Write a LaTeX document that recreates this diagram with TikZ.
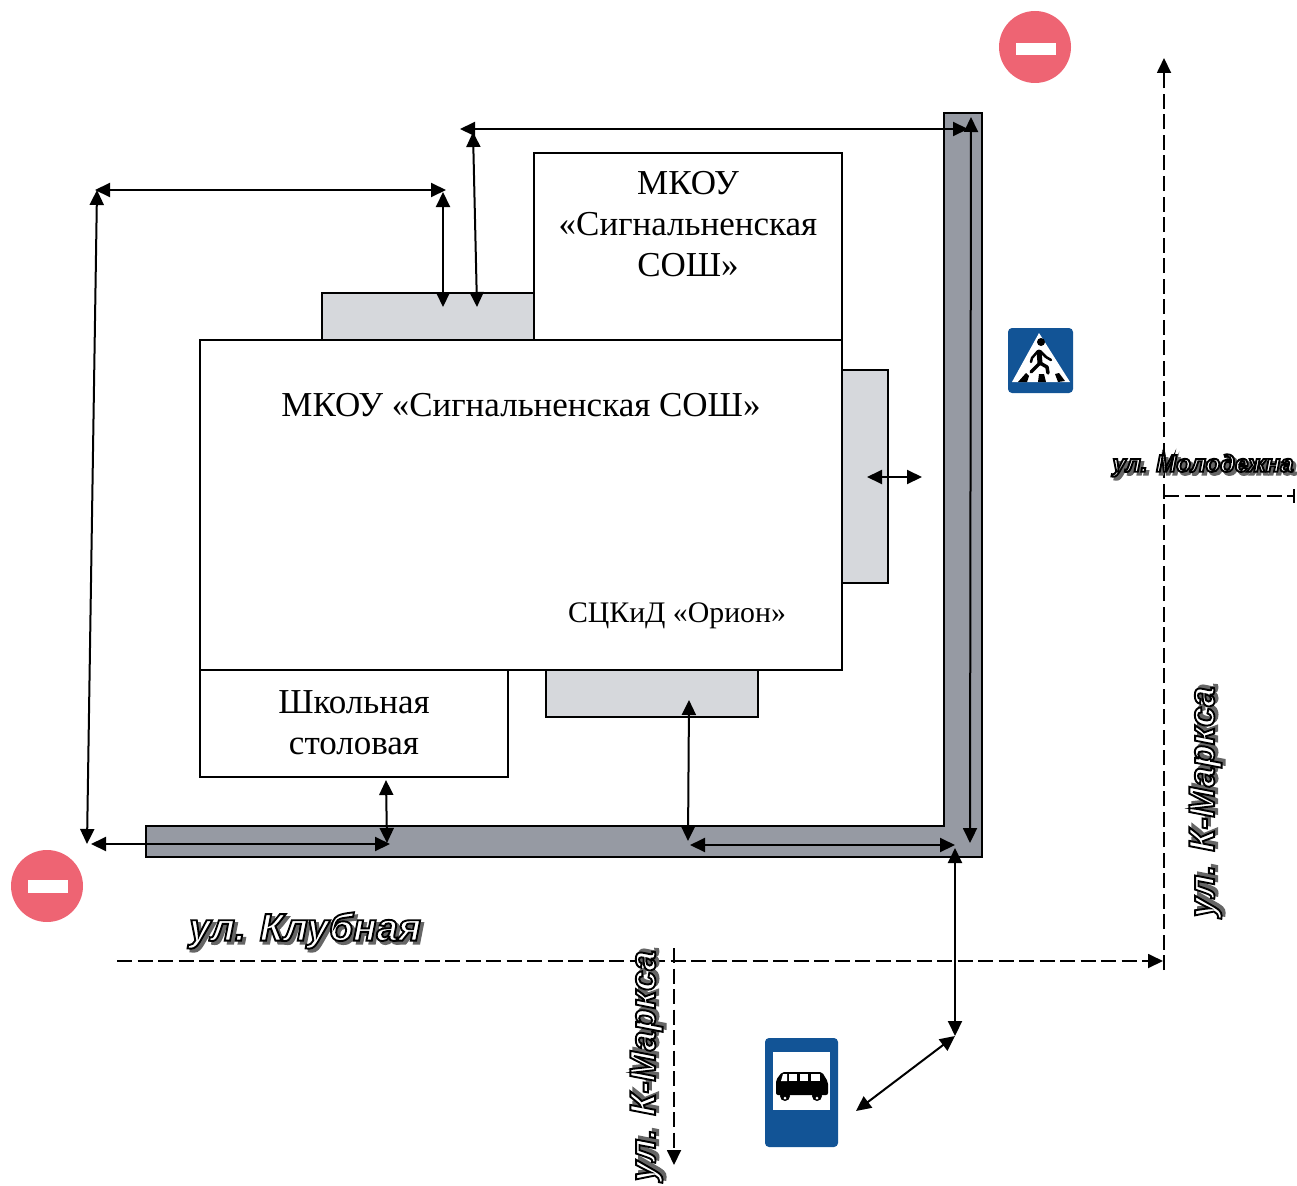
\documentclass[tikz,border=0pt]{standalone}
\usepackage{fontspec}
\setmainfont{Liberation Serif}
\newfontfamily\streetfont[BoldItalicFont={Liberation Sans Bold Italic}]{Liberation Sans Bold Italic}
\usetikzlibrary{arrows.meta}
\definecolor{roadc}{RGB}{150,154,163}
\definecolor{porch}{RGB}{214,216,220}
\definecolor{signred}{RGB}{238,100,115}
\definecolor{signblue}{RGB}{18,84,150}
\newcommand{\streetlbl}[1]{\leavevmode\rlap{\kern3pt\raisebox{-3pt}{\color{black!60}\special{pdf:code 0.4 G 0.4 g 2 Tr 2 w}#1\special{pdf:code 0 Tr}}}\color{white}\special{pdf:code 0 G 1 g 2 Tr 1.9 w}#1\special{pdf:code 0 Tr}}
\tikzset{
 x=1pt,y=-1pt,
 porchbox/.style={draw=black,line width=1.4pt,fill=porch},
 bld/.style={draw=black,line width=1.8pt,fill=white},
 road/.style={draw=black,line width=2.6pt,fill=roadc},
 dbl/.style={line width=2pt,{Triangle[length=15pt,width=14pt]}-{Triangle[length=15pt,width=14pt]}},
 one/.style={line width=1.8pt,dash pattern=on 15pt off 5.5pt,-{Triangle[length=15pt,width=14pt]}},
 plain/.style={line width=1.8pt,dash pattern=on 15pt off 5.5pt},
 lbl/.style={font=\fontsize{35}{41}\selectfont,align=center,inner sep=0pt},
 street/.style={font=\fontsize{36}{36}\streetfont,inner sep=0pt},
}
\begin{document}
\begin{tikzpicture}
\useasboundingbox (0,0) rectangle (1297,1185);
% porches
\path[porchbox] (322,293) rectangle (534,340);
\path[porchbox] (842,370) rectangle (888,583);
\path[porchbox] (546,670) rectangle (758,717);
% buildings
\path[bld] (534,153) rectangle (842,340);
\path[bld] (200,670) rectangle (508,777);
\path[bld] (200,340) rectangle (842,670);
\node[lbl] (school2) at (688,224) {МКОУ\\«Сигнальненская\\СОШ»};
\node[lbl] (school1) at (521,405) {МКОУ «Сигнальненская СОШ»};
\node[lbl,font=\fontsize{29.8}{34}\selectfont] (orion) at (677,616) {СЦКиД «Орион»};
\node[lbl,font=\fontsize{35}{41}\selectfont] (canteen) at (354,723) {Школьная\\столовая};
% roads
\path[road] (146,826) -- (944,826) -- (944,113) -- (982,113) -- (982,857) -- (146,857) -- cycle;
% coordinates
\coordinate (a1) at (87,844);
\coordinate (a2) at (97,190);
\coordinate (a2b) at (95,190);
\coordinate (a3) at (446,190);
\coordinate (a3b) at (443,192);
\coordinate (a4) at (443,307);
\coordinate (a5) at (460,129);
\coordinate (a6) at (968,129);
\coordinate (a7) at (473,132);
\coordinate (a8) at (477,307);
\coordinate (a9) at (971,117);
\coordinate (a10) at (970,843);
\coordinate (b1) at (867,477);
\coordinate (b2) at (922,477);
\coordinate (c1) at (689,700);
\coordinate (c2) at (688,841);
\coordinate (d1) at (386,780);
\coordinate (d2) at (387,843);
\coordinate (e1) at (91,844);
\coordinate (e2) at (390,844);
\coordinate (f1) at (690,845);
\coordinate (f2) at (955,845);
\coordinate (g1) at (955,848);
\coordinate (g2) at (955,1036);
\coordinate (h1) at (955,1036);
\coordinate (h2) at (856,1111);
% connectors
\draw[dbl] (a1) -- (a2);
\draw[dbl] (a2b) -- (a3);
\draw[dbl] (a3b) -- (a4);
\draw[dbl] (a5) -- (a6);
\draw[dbl] (a7) -- (a8);
\draw[dbl] (a9) -- (a10);
\draw[dbl] (b1) -- (b2);
\draw[dbl] (c1) -- (c2);
\draw[dbl] (d1) -- (d2);
\draw[dbl] (e1) -- (e2);
\draw[dbl] (f1) -- (f2);
\draw[dbl] (g1) -- (g2);
\draw[dbl] (h1) -- (h2);
% streets
\coordinate (s1) at (117,961);
\coordinate (s2) at (1163,961);
\coordinate (s3b) at (1164,970);
\coordinate (s3) at (1164,58);
\coordinate (s4) at (674,948);
\coordinate (s5) at (674,1165);
\coordinate (s6) at (1164,496);
\coordinate (s7) at (1294,496);
\draw[one] (s1) -- (s2);
\draw[one] (s3b) -- (s3);
\draw[one] (s4) -- (s5);
\draw[plain] (s6) -- (s7);
\draw[line width=1.4pt] (1294,489) -- (1294,503);
\node[street,font=\fontsize{38.7}{39}\streetfont] (klub) at (305,932) {\streetlbl{ул. Клубная}};
\node[street,rotate=90] (km1) at (1207,802) {\streetlbl{ул. К-Маркса}};
\node[street,rotate=90] (km2) at (648,1066) {\streetlbl{ул. К-Маркса}};
\node[street,font=\fontsize{24}{24}\streetfont] (mol) at (1203,467) {\streetlbl{ул. Молодежна}};
% no-entry signs
\fill[signred] (1035,47) circle[radius=36];
\fill[white] (1016,43) rectangle (1056,55);
\fill[signred] (47,886) circle[radius=36];
\fill[white] (28,880) rectangle (68,893);
% pedestrian sign
\fill[signblue,rounded corners=4pt] (1008,328) rectangle (1073,393);
\fill[white] (1039,333) -- (1070,382) -- (1012,382) -- cycle;
\fill[black] (1041,342) circle[radius=4];
\draw[black,line width=5pt,line cap=round,line join=round] (1039,352) -- (1040,363);
\draw[black,line width=3.5pt,line cap=round,line join=round] (1040,363) -- (1031,372);
\draw[black,line width=3.5pt,line cap=round,line join=round] (1040,363) -- (1047,367) -- (1048,373);
\draw[black,line width=2.5pt,line cap=round,line join=round] (1038,351) -- (1032,358) -- (1031,362);
\draw[black,line width=2.5pt,line cap=round,line join=round] (1040,351) -- (1046,357) -- (1051,360);
\fill[black] (1018,382) -- (1026,373) -- (1029,376) -- (1027,382) -- cycle;
\fill[black] (1038,382) -- (1039,374) -- (1044,374) -- (1046,382) -- cycle;
\fill[black] (1055,374) -- (1059,373) -- (1065,381) -- (1058,382) -- cycle;
% bus sign
\fill[signblue,rounded corners=4pt] (765,1038) rectangle (838,1147);
\fill[white] (773,1052) rectangle (830,1110);
\fill[black,rounded corners=2pt] (776,1095) -- (776,1080) -- (782,1072) -- (822,1072) -- (828,1082) -- (828,1095) -- cycle;
\fill[black] (785,1096) circle[radius=5];
\fill[black] (817,1096) circle[radius=5];
\fill[white] (785,1098) circle[radius=1.5];
\fill[white] (817,1098) circle[radius=1.5];
\fill[white] (781,1081) -- (783,1074) -- (787,1074) -- (787,1081) -- cycle;
\fill[white] (789,1074) rectangle (797,1081);
\fill[white] (800,1074) rectangle (808,1081);
\fill[white] (811,1074) rectangle (820,1081);
\end{tikzpicture}
\end{document}
